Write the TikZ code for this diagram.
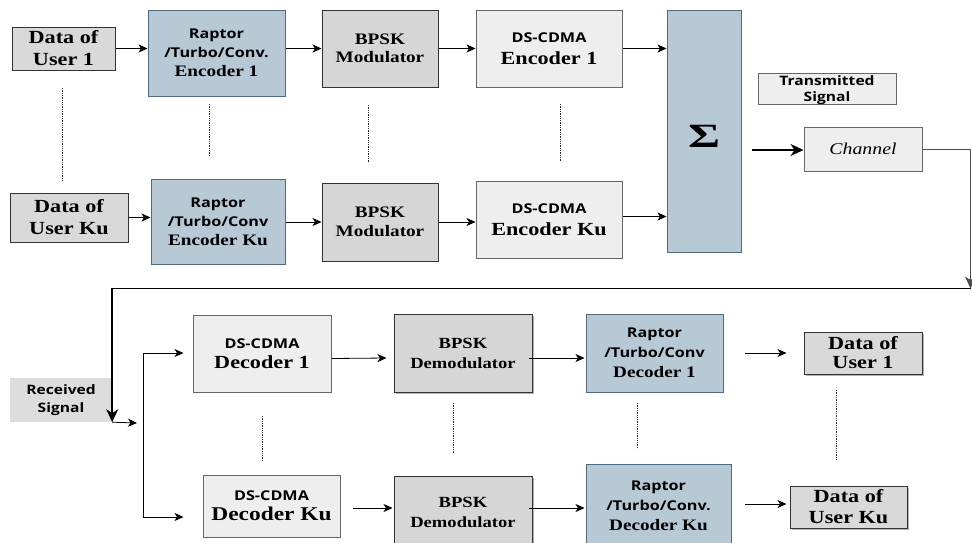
\documentclass[tikz,border=0pt]{standalone}
\usepackage{fontspec}
\setmainfont{Liberation Serif}[FakeStretch=1.2]
\newfontfamily\labsans{Open Sans}[FakeStretch=1.2]
\usetikzlibrary{arrows.meta,shadows,calc}

\definecolor{datafill}{HTML}{D9D9D9}
\definecolor{codefill}{HTML}{B8C9D6}
\definecolor{codeedge}{HTML}{4F6B82}
\definecolor{modfill}{HTML}{D6D6D6}
\definecolor{cdmafill}{HTML}{EEEEEE}
\definecolor{edge}{HTML}{333333}
\definecolor{rxfill}{HTML}{DDDDDD}

\newcommand{\sansline}[2]{{\labsans\bfseries\fontsize{#1}{#1}\selectfont #2}}

\begin{document}
\begin{tikzpicture}[x=1pt,y=-1pt,
  blk/.style={rectangle, draw=edge, line width=1pt, inner sep=0pt, align=center, text=black},
  datab/.style={blk, fill=datafill},
  codeb/.style={blk, fill=codefill, draw=codeedge},
  modb/.style={blk, fill=modfill},
  cdmab/.style={blk, fill=cdmafill, draw=black!60},
  shade/.style={drop shadow={shadow xshift=2pt, shadow yshift=-2pt, fill=black, opacity=0.3}},
  flow/.style={-{Stealth[length=9pt,width=8pt,inset=2.5pt]}, line width=0.8pt},
  bigflow/.style={-{Stealth[length=13pt,width=12pt,inset=4pt]}, line width=1.8pt},
  dots/.style={dash pattern=on 1.3pt off 1pt, line width=0.9pt, draw=black!85}]
\useasboundingbox (0,0) rectangle (972,542);

% ---------------- transmitter ----------------
\node[datab, minimum width=103pt, minimum height=43pt, font=\fontsize{18.5}{22}\selectfont\bfseries] (d1) at (63.5,48.5) {Data of\\User 1};
\node[codeb, minimum width=137pt, minimum height=86pt, font=\fontsize{16}{19}\selectfont\bfseries] (r1) at (216.5,53) {\sansline{13.5}{Raptor}\\\sansline{13.5}{/Turbo/Conv.}\\Encoder 1};
\node[modb, minimum width=116pt, minimum height=77pt, font=\fontsize{16}{18.5}\selectfont\bfseries] (b1) at (380,48.5) {BPSK\\Modulator};
\node[cdmab, minimum width=146pt, minimum height=77pt, font=\fontsize{18.5}{22}\selectfont\bfseries] (e1) at (549,48.5) {\sansline{13.5}{DS-CDMA}\\Encoder 1};

\node[datab, minimum width=118pt, minimum height=49pt, font=\fontsize{18.5}{22}\selectfont\bfseries] (dK) at (69,217.5) {Data of\\User Ku};
\node[codeb, minimum width=134pt, minimum height=85pt, font=\fontsize{16}{19}\selectfont\bfseries] (rK) at (218,221.5) {\sansline{13.5}{Raptor}\\\sansline{13.5}{/Turbo/Conv}\\Encoder Ku};
\node[modb, minimum width=116pt, minimum height=78pt, font=\fontsize{16}{18.5}\selectfont\bfseries] (bK) at (380,222) {BPSK\\Modulator};
\node[cdmab, minimum width=146pt, minimum height=77pt, font=\fontsize{18.5}{22}\selectfont\bfseries] (eK) at (549,219.5) {\sansline{13.5}{DS-CDMA}\\Encoder Ku};

\node[codeb, minimum width=74pt, minimum height=242pt, font=\fontsize{34}{34}\selectfont\bfseries] (sig) at (704,131) {\raisebox{-16pt}[0pt][0pt]{\scalebox{1.2}[1]{Σ}}};

\node[cdmab, minimum width=138pt, minimum height=31pt, text depth=0pt, font=\labsans\bfseries\fontsize{13}{16.5}\selectfont] (tx) at (827,88.5) {Transmitted\\Signal};
\node[cdmab, minimum width=118pt, minimum height=44pt, font=\itshape\fontsize{16.5}{16.5}\selectfont] (ch) at (863,149) {Channel};

% ---------------- receiver ----------------
\node[rectangle, fill=rxfill, minimum width=102pt, minimum height=44pt, inner sep=0pt, align=center, font=\labsans\bfseries\fontsize{13}{18}\selectfont] (rx) at (61,400) {Received\\Signal};

\node[cdmab, minimum width=138pt, minimum height=77pt, font=\fontsize{18.5}{20}\selectfont\bfseries] (D1) at (262,353.5) {\sansline{13.5}{DS-CDMA}\\Decoder 1};
\node[cdmab, minimum width=137pt, minimum height=62pt, font=\fontsize{19.5}{20}\selectfont\bfseries] (DK) at (271.5,506) {\sansline{13.5}{DS-CDMA}\\Decoder Ku};

\node[modb, shade, minimum width=138pt, minimum height=78pt, font=\fontsize{15.5}{20}\selectfont\bfseries] (m1) at (463,353) {BPSK\\Demodulator};
\node[modb, shade, minimum width=138pt, minimum height=72pt, font=\fontsize{15.5}{20}\selectfont\bfseries] (mK) at (463,512) {BPSK\\Demodulator};

\node[codeb, minimum width=137pt, minimum height=78pt, font=\fontsize{16}{20}\selectfont\bfseries] (c1) at (654.5,353) {\sansline{13.5}{Raptor}\\\sansline{13.5}{/Turbo/Conv}\\Decoder 1};
\node[codeb, minimum width=145pt, minimum height=84pt, font=\fontsize{16}{20}\selectfont\bfseries] (cK) at (658.5,506) {\sansline{13.5}{Raptor}\\\sansline{13.5}{/Turbo/Conv.}\\Decoder Ku};

\node[datab, shade, minimum width=118pt, minimum height=42pt, font=\fontsize{18.5}{19}\selectfont\bfseries] (u1) at (863,353) {Data of\\User 1};
\node[datab, shade, minimum width=117pt, minimum height=42pt, font=\fontsize{18.5}{21}\selectfont\bfseries] (uK) at (848.5,507) {Data of\\User Ku};

% ---------------- transmitter connectors ----------------
\draw[flow] (d1.east) -- (d1.east -| r1.west);
\draw[flow] (r1.east |- b1.west) -- (b1.west);
\draw[flow] (b1.east) -- (e1.west);
\draw[flow] (e1.east) -- (e1.east -| sig.west);
\draw[flow] (dK.east) -- (dK.east -| rK.west);
\draw[flow] (rK.east |- bK.west) -- (bK.west);
\draw[flow] (bK.east) -- (bK.east -| eK.west);
\draw[flow] ($(eK.east)+(0,-3)$) -- ($(eK.east -| sig.west)+(0,-3)$);

\coordinate (sumout) at (752,150);
\draw[bigflow] (sumout) -- (sumout -| ch.west);

% channel output loops round to the receiver
\coordinate (rdrop) at (970.5,288.5);
\draw[-{Stealth[length=12pt,width=11pt,inset=3.5pt]}, line width=0.8pt, draw=black!70] (ch.east) -| (rdrop);
\draw[bigflow] (rdrop) -| (rx.south east);

\coordinate (fork) at (137,423);
\draw[flow] (rx.south east) -- (fork);

\coordinate (bus1) at (143,353);
\coordinate (busK) at (143,517);
\draw[line width=0.8pt] (bus1) -- (busK);
\draw[flow] (bus1) -- ($(bus1 -| D1.west)+(-9,0)$);
\draw[flow] (busK) -- ($(busK -| DK.west)+(-19,0)$);

% ---------------- receiver connectors ----------------
\draw[flow] ($(D1.east)+(0,5)$) -- ($(m1.west)+(-7,5)$);
\draw[flow] ($(m1.east)+(-4,5)$) -- ($(c1.west)+(-1,5)$);
\coordinate (o1) at (745,353);
\draw[flow] (o1) -- ($(o1 -| u1.west)+(-17,0)$);

\draw[flow] ($(DK.east)+(12,2)$) -- ($(DK.east -| mK.west)+(-1,2)$);
\draw[flow] ($(mK.east |- DK.east)+(-4,2)$) -- ($(cK.west |- DK.east)+(-1,2)$);
\coordinate (oK) at (745,504);
\draw[flow] (oK) -- ($(oK -| uK.west)+(-3,0)$);

% ---------------- ellipsis between user 1 and user Ku ----------------
\draw[dots] (62,88) -- (62,182);
\draw[dots] (209,104) -- (209,155);
\draw[dots] (368,105) -- (368,162);
\draw[dots] (560,104) -- (560,161);
\draw[dots] (262,416) -- (262,461);
\draw[dots] (453,403) -- (453,453);
\draw[dots] (637,403) -- (637,449);
\draw[dots] (836,390) -- (836,460);
\end{tikzpicture}
\end{document}
